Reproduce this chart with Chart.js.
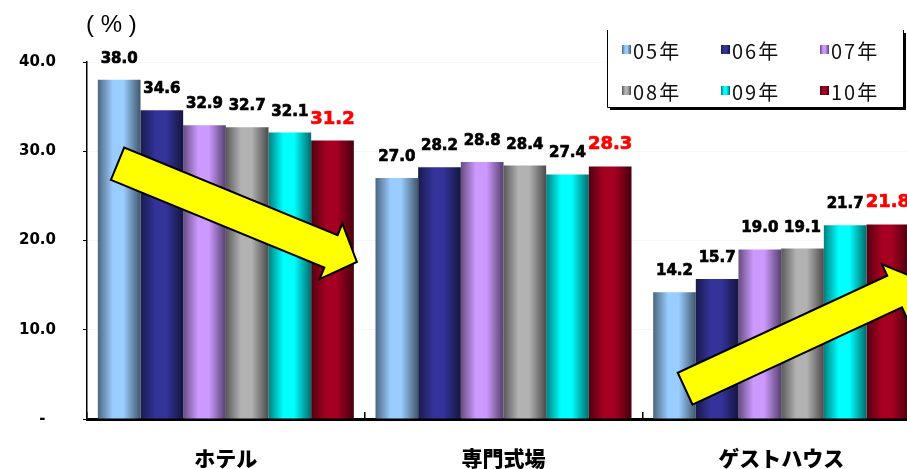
<!DOCTYPE html>
<html>
<head>
<meta charset="utf-8">
<script src="https://cdn.jsdelivr.net/npm/chart.js@4.4.1/dist/chart.umd.min.js"></script>
<style>
  html, body { margin: 0; padding: 0; background: #fff; overflow: hidden; }
  #wrap { width: 920px; height: 469px; }
</style>
</head>
<body>
<div id="wrap"><canvas id="shareChart"></canvas></div>
<script>
// venue types and yearly share (%)
const categories = ['ホテル', '専門式場', 'ゲストハウス'];
const yearLabels = ['05年', '06年', '07年', '08年', '09年', '10年'];
const hotelShare = [38.0, 34.6, 32.9, 32.7, 32.1, 31.2];
const chapelShare = [27.0, 28.2, 28.8, 28.4, 27.4, 28.3];
const guestHouseShare = [14.2, 15.7, 19.0, 19.1, 21.7, 21.8];
const barColors = ['#99CCFF', '#333399', '#CC99FF', '#B2B2B2', '#00FFFF', '#A50021'];
const yMax = 40;
const yStep = 10;

// trend arrows: [tail, tip] as [category position, value]
const trendArrows = [
    [[-0.39, 28.6], [0.472, 17.6]],
    [[1.654, 3.4], [2.5, 15.6]]
];

function shade(hex, f) {
    const n = parseInt(hex.slice(1), 16);
    const r = Math.round(((n >> 16) & 255) * f);
    const g = Math.round(((n >> 8) & 255) * f);
    const b = Math.round((n & 255) * f);
    return `rgb(${r}, ${g}, ${b})`;
}

function cylinder(ctx, left, right, color) {
    const g = ctx.createLinearGradient(left, 0, right, 0);
    g.addColorStop(0, shade(color, 0.5));
    g.addColorStop(0.35, color);
    g.addColorStop(0.6, color);
    g.addColorStop(1, shade(color, 0.42));
    return g;
}

const datasets = yearLabels.map((label, i) => ({
    label: label,
    data: [hotelShare[i], chapelShare[i], guestHouseShare[i]],
    baseColor: barColors[i],
    backgroundColor: ctx => barColors[ctx.datasetIndex],
    borderWidth: 0,
    categoryPercentage: 0.922,
    barPercentage: 1.0
}));

// shaded cylinder look on every bar
const cylinderShading = {
    id: 'cylinderShading',
    beforeDatasetsDraw(chart) {
        const ctx = chart.ctx;
        chart.data.datasets.forEach((ds, i) => {
            chart.getDatasetMeta(i).data.forEach(bar => {
                const half = bar.width / 2;
                bar.options.backgroundColor = cylinder(ctx, bar.x - half, bar.x + half, ds.baseColor);
            });
        });
    }
};

const arrowShapes = {
    id: 'arrowShapes',
    afterDatasetsDraw(chart) {
        const ctx = chart.ctx;
        const xs = chart.scales.x;
        const ys = chart.scales.y;
        const shaft = 35, head = 60, headLen = 28;
        ctx.save();
        trendArrows.forEach(([tail, tip]) => {
            const tx = xs.getPixelForValue(tail[0]), ty = ys.getPixelForValue(tail[1]);
            const px = xs.getPixelForValue(tip[0]), py = ys.getPixelForValue(tip[1]);
            const len = Math.hypot(px - tx, py - ty);
            const ux = (px - tx) / len, uy = (py - ty) / len;
            const nx = -uy, ny = ux;
            const bx = px - ux * headLen, by = py - uy * headLen;
            ctx.beginPath();
            ctx.moveTo(tx + nx * shaft / 2, ty + ny * shaft / 2);
            ctx.lineTo(bx + nx * shaft / 2, by + ny * shaft / 2);
            ctx.lineTo(bx + nx * head / 2, by + ny * head / 2);
            ctx.lineTo(px, py);
            ctx.lineTo(bx - nx * head / 2, by - ny * head / 2);
            ctx.lineTo(bx - nx * shaft / 2, by - ny * shaft / 2);
            ctx.lineTo(tx - nx * shaft / 2, ty - ny * shaft / 2);
            ctx.closePath();
            ctx.fillStyle = '#FFFF00';
            ctx.fill();
            ctx.lineWidth = 2;
            ctx.lineJoin = 'miter';
            ctx.strokeStyle = '#000';
            ctx.stroke();
        });
        ctx.restore();
    }
};

const valueLabels = {
    id: 'valueLabels',
    afterDatasetsDraw(chart) {
        const ctx = chart.ctx;
        const last = chart.data.datasets.length - 1;
        ctx.save();
        ctx.textAlign = 'center';
        ctx.textBaseline = 'alphabetic';
        ctx.lineWidth = 0.7;
        chart.data.datasets.forEach((ds, i) => {
            ctx.font = i === last ? 'bold 18px "DejaVu Sans"' : 'bold 15px "DejaVu Sans"';
            ctx.fillStyle = ctx.strokeStyle = i === last ? '#FF0000' : '#000';
            chart.getDatasetMeta(i).data.forEach((bar, j) => {
                const text = ds.data[j].toFixed(1);
                ctx.fillText(text, bar.x, bar.y - 17);
                ctx.strokeText(text, bar.x, bar.y - 17);
            });
        });
        ctx.restore();
    }
};

// unit caption and the boxed legend at the top
const topDecor = {
    id: 'topDecor',
    afterDraw(chart) {
        const ctx = chart.ctx;
        ctx.save();
        ctx.fillStyle = '#000';
        ctx.font = '24px "Liberation Sans"';
        ctx.textAlign = 'left';
        ctx.textBaseline = 'middle';
        ctx.fillText('( % )', 86, 25);

        const boxL = 607, boxT = 30, boxR = 903, boxB = 107;
        ctx.fillStyle = '#fff';
        ctx.fillRect(boxL, boxT, boxR - boxL, boxB - boxT);
        ctx.fillStyle = '#000';
        ctx.fillRect(boxR, boxT + 3, 3, boxB - boxT);
        ctx.fillRect(boxL + 3, boxB, boxR - boxL, 3);
        ctx.strokeStyle = '#000';
        ctx.lineWidth = 1;
        ctx.beginPath();
        ctx.moveTo(boxL + 0.5, boxT);
        ctx.lineTo(boxL + 0.5, boxB + 0.5);
        ctx.lineTo(boxR + 0.5, boxB + 0.5);
        ctx.lineTo(boxR + 0.5, boxT);
        ctx.stroke();

        ctx.font = '20px "Noto Sans CJK JP"';
        ctx.letterSpacing = '2px';
        ctx.textBaseline = 'middle';
        chart.data.datasets.forEach((ds, i) => {
            const col = i % 3, row = Math.floor(i / 3);
            const x = 622 + col * 99;
            const y = 50 + row * 41;
            ctx.fillStyle = cylinder(ctx, x, x + 9, ds.baseColor);
            ctx.fillRect(x, y - 5, 9, 9);
            ctx.fillStyle = '#111';
            ctx.fillText(ds.label, x + 11, y + 1);
        });
        ctx.restore();
    }
};

new Chart(document.getElementById('shareChart'), {
    type: 'bar',
    data: { labels: categories, datasets: datasets },
    plugins: [cylinderShading, arrowShapes, valueLabels, topDecor],
    options: {
        responsive: true,
        maintainAspectRatio: false,
        animation: false,
        layout: { padding: { top: 62, left: 0, right: 0, bottom: 0 } },
        plugins: {
            legend: { display: false },
            tooltip: { enabled: false }
        },
        scales: {
            x: {
                afterFit: scale => { scale.height = 50; },
                grid: {
                    drawOnChartArea: false,
                    tickLength: -7,
                    tickColor: '#000',
                    lineWidth: 1.5
                },
                border: { display: true, color: '#000', width: 3 },
                ticks: {
                    color: '#000',
                    padding: 33,
                    font: { family: '"Noto Sans CJK JP"', size: 21, weight: '900' }
                }
            },
            y: {
                min: 0,
                max: yMax,
                afterFit: scale => { scale.width = 87; },
                grid: {
                    color: '#f7f7f7',
                    tickColor: '#000',
                    tickLength: 4
                },
                border: { display: true, color: '#000', width: 1.5 },
                ticks: {
                    stepSize: yStep,
                    color: '#000',
                    padding: 27,
                    font: { family: '"DejaVu Sans"', size: 15, weight: 'bold' },
                    callback: v => v === 0 ? '-  ' : v.toFixed(1)
                }
            }
        }
    }
});
</script>
</body>
</html>
